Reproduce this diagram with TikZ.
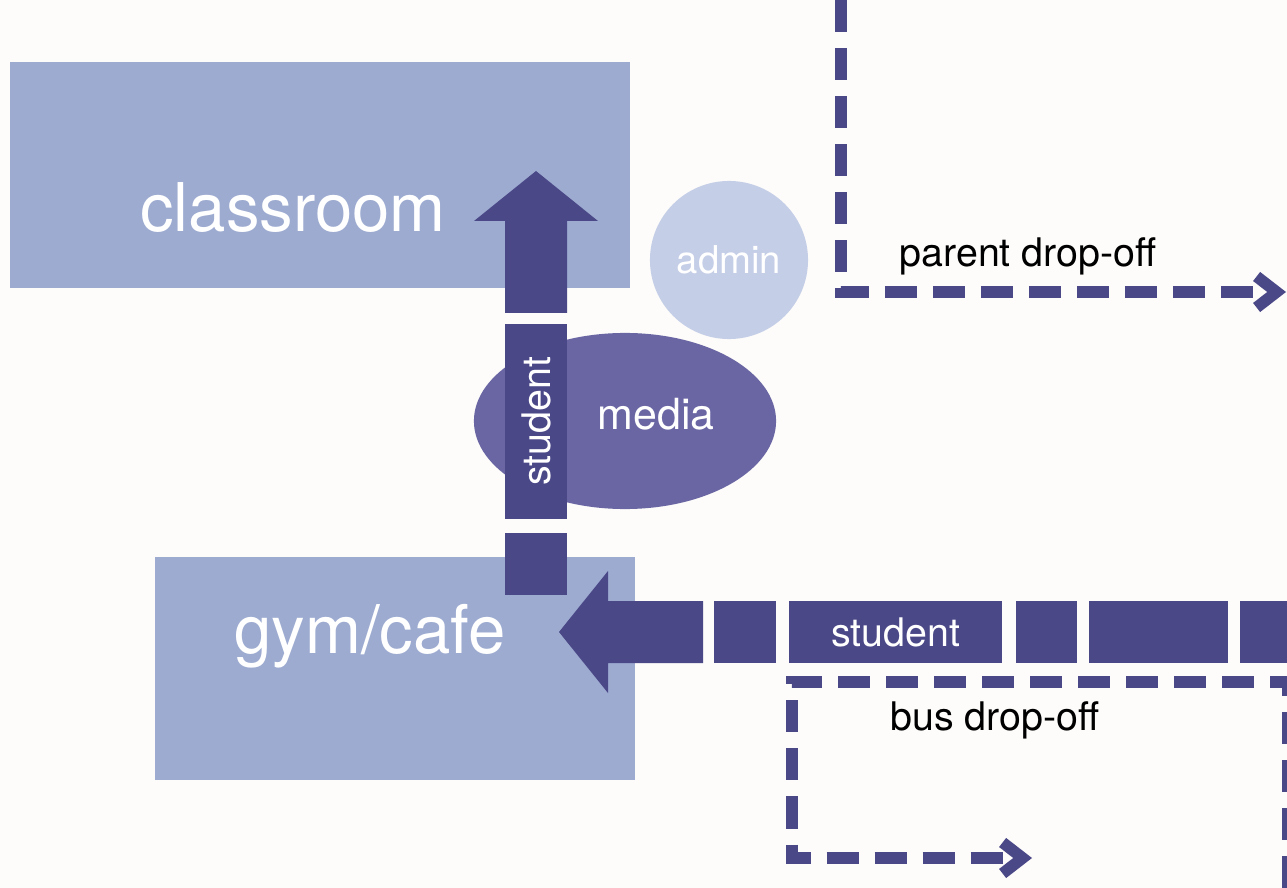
\documentclass[tikz,border=0pt]{standalone}
\usepackage{fontspec}
\setmainfont{TeX Gyre Heros}
\usetikzlibrary{arrows.meta, shapes.geometric}

\definecolor{roomblue}{HTML}{9DABD1}
\definecolor{adminblue}{HTML}{C5CEE7}
\definecolor{mediablue}{HTML}{6A66A4}
\definecolor{flowblue}{HTML}{4B4888}
\definecolor{paper}{HTML}{FDFCFA}

\tikzset{
  room/.style={rectangle, fill=roomblue, inner sep=0, outer sep=0},
  roomname/.style={text=white, inner sep=0, font=\fontsize{19.1}{22}\selectfont},
  flowbox/.style={rectangle, fill=flowblue, inner sep=0, outer sep=0,
    minimum height=0.62cm, text=white, font=\fontsize{11.2}{13}\selectfont},
  dropoff/.style={draw=flowblue, line width=0.115cm, line join=miter,
    dash pattern=on 0.32cm off 0.16cm,
    -{Straight Barb[length=0.2cm, width=0.31cm, sharp]}},
  droplabel/.style={inner sep=0, font=\fontsize{11.2}{13}\selectfont},
}

\begin{document}
\begin{tikzpicture}[x=0.01cm, y=-0.01cm]
  \fill[paper] (0,0) rectangle (1287,888);
  \useasboundingbox (0,0) rectangle (1287,888);

  \node[room,
    minimum width = 6.2cm,
    minimum height = 2.26cm] (classroom) at (320, 175) {};
  \node[room,
    minimum width = 4.8cm,
    minimum height = 2.23cm] (gymcafe) at (395, 668.5) {};
  \node[roomname] (classroomname) at (293, 208) {classroom};
  \node[roomname] (gymcafename) at (370, 636) {gym/cafe};

  \node[circle, fill=adminblue,
    minimum size = 1.58cm,
    inner sep=0, text=white,
    font=\fontsize{10.9}{13}\selectfont] (admin) at (729, 260) {admin};
  \node[ellipse, fill=mediablue,
    minimum width = 3.02cm,
    minimum height = 1.76cm,
    inner sep=0] (media) at (625, 421) {};
  \node[text=white, inner sep=0,
    font=\fontsize{12.2}{14}\selectfont] (medianame) at (656, 414) {media};

  % student flow up
  \fill[flowblue] (536, 171) -- (598, 221) -- (567, 221) -- (567, 313)
    -- (505, 313) -- (505, 221) -- (474, 221) -- cycle;
  \node[flowbox, rotate=90, minimum width=1.95cm] (vstudent) at (536, 421.5) {student};
  \node[flowbox, minimum width=0.62cm] (vbox) at (536, 564) {};

  % student flow left
  \fill[flowblue] (559, 632) -- (608, 571) -- (608, 601) -- (703, 601)
    -- (703, 663) -- (608, 663) -- (608, 693) -- cycle;
  \node[flowbox, minimum width=0.62cm] (hbox1) at (745, 632) {};
  \node[flowbox, minimum width=2.13cm] (hstudent) at (895.5, 632) {student};
  \node[flowbox, minimum width=0.61cm] (hbox2) at (1046.5, 632) {};
  \node[flowbox, minimum width=1.39cm] (hbox3) at (1158.5, 632) {};
  \node[flowbox, anchor=west, minimum width=0.47cm] (hbox4) at (1240, 632) {};

  \coordinate (parenttop) at (841, 0);
  \coordinate (parentcorner) at (841, 292);
  \coordinate (parentend) at (1286, 292);
  \draw[dropoff] (parenttop) -- (parentcorner) -- (parentend);
  \node[droplabel] (parentlabel) at (1028, 256) {parent drop-off};

  \coordinate (busin) at (1288, 888);
  \coordinate (busright) at (1288, 682);
  \coordinate (busleft) at (792, 682);
  \coordinate (buscorner) at (792, 858);
  \coordinate (busend) at (1032, 858);
  \draw[dropoff] (busin) -- (busright) -- (busleft) -- (buscorner) -- (busend);
  \node[droplabel] (buslabel) at (995, 720) {bus drop-off};
\end{tikzpicture}
\end{document}
